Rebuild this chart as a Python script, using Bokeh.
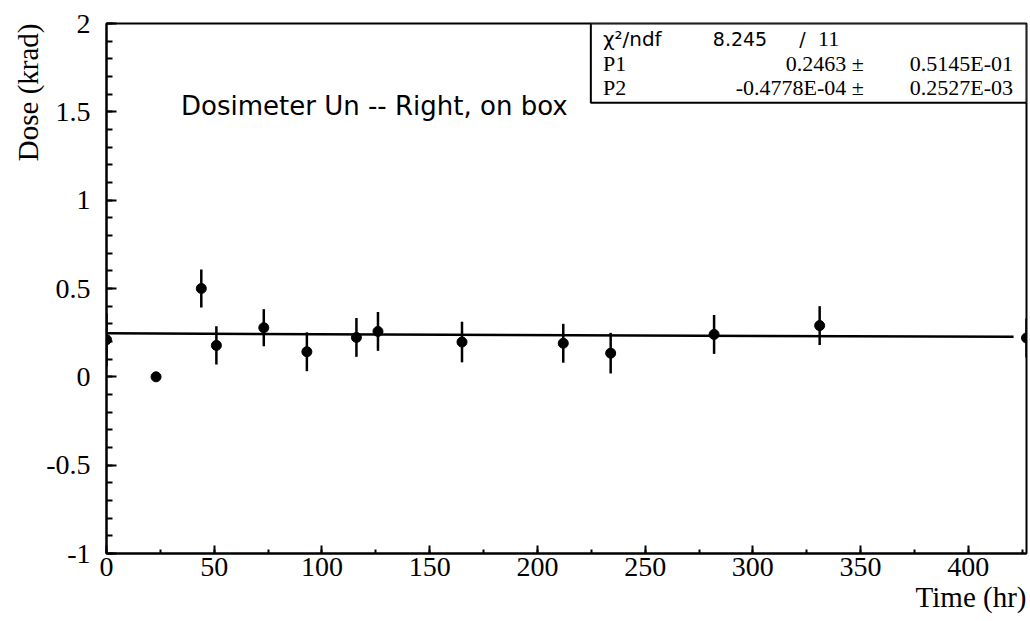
from bokeh.plotting import figure
from bokeh.models import (Range1d, SingleIntervalTicker, Label, BoxAnnotation, Title,
                          ColumnDataSource, CustomJSTickFormatter)
from bokeh.embed import file_html
from bokeh.resources import INLINE

# ---- data ----
time_hr = [0, 23, 44, 51, 73, 93, 116, 126, 165, 212, 234, 282, 331, 427]
dose_krad = [0.21, 0.0, 0.50, 0.178, 0.278, 0.142, 0.223, 0.257, 0.197, 0.19, 0.134, 0.24, 0.29, 0.22]
dose_err = [0.15, 0.0, 0.108, 0.108, 0.105, 0.11, 0.11, 0.11, 0.115, 0.11, 0.115, 0.11, 0.11, 0.11]

chi2 = "8.245"
ndf = "11"
p1_val, p1_err = "0.2463", "0.5145E-01"
p2_val, p2_err = "-0.4778E-04", "0.2527E-03"
fit_p1 = 0.2463
fit_p2 = -0.4778e-04
fit_x = [0, 421]

x_ticks_interval = 50
y_ticks_interval = 0.5

# ---- figure ----
SERIF = "Liberation Serif"
SANS = "DejaVu Sans"

p = figure(width=1028, height=621, x_range=Range1d(0, 427), y_range=Range1d(-1, 2),
           output_backend="svg", toolbar_location=None,
           min_border_left=106, min_border_right=2, min_border_top=23, min_border_bottom=68)
p.grid.visible = False
p.outline_line_color = "black"
p.outline_line_width = 2
p.background_fill_color = "white"
p.border_fill_color = "white"

p.xaxis.ticker = SingleIntervalTicker(interval=x_ticks_interval, num_minor_ticks=2)
p.yaxis.ticker = SingleIntervalTicker(interval=y_ticks_interval, num_minor_ticks=5)
p.yaxis.formatter = CustomJSTickFormatter(code="return String(Math.round(tick*10)/10);")
p.xaxis.formatter = CustomJSTickFormatter(code="return String(Math.round(tick));")

for ax in (p.xaxis[0], p.yaxis[0]):
    ax.axis_line_width = 2
    ax.axis_line_color = "black"
    ax.major_tick_out = 0
    ax.minor_tick_out = 0
    ax.major_tick_line_width = 2
    ax.minor_tick_line_width = 2
    ax.major_label_text_font = SERIF
    ax.major_label_text_font_size = "28px"
    ax.major_label_text_color = "black"

p.xaxis.major_tick_in = 8
p.xaxis.minor_tick_in = 4
p.yaxis.major_tick_in = 10
p.yaxis.minor_tick_in = 6
p.xaxis.major_label_standoff = 4
p.yaxis.major_label_standoff = 16

# ---- axis titles (as side titles, aligned to the far end) ----
p.add_layout(Title(text="Dose (krad)", align="right", text_font=SERIF,
                   text_font_size="29px", text_font_style="normal",
                   text_color="black", standoff=0, offset=0), "left")
p.add_layout(Title(text="Time (hr)", align="right", text_font=SERIF,
                   text_font_size="29px", text_font_style="normal",
                   text_color="black", standoff=0, offset=0), "below")

# ---- fit line ----
fit_y = [fit_p1 + fit_p2 * x for x in fit_x]
p.line(fit_x, fit_y, line_color="black", line_width=2.5)

# ---- data points with error bars ----
src = ColumnDataSource(dict(
    x=time_hr, y=dose_krad,
    lo=[y - e for y, e in zip(dose_krad, dose_err)],
    hi=[y + e for y, e in zip(dose_krad, dose_err)],
))
p.segment(x0="x", y0="lo", x1="x", y1="hi", source=src, line_color="black", line_width=2.5)
p.scatter(x="x", y="y", source=src, size=10, marker="circle", fill_color="black", line_color="black")

# ---- annotation ----
p.add_layout(Label(x=34.6, y=1.535, text="Dosimeter Un -- Right, on box",
                   text_font=SANS, text_font_size="26px", text_baseline="middle",
                   text_color="black"))

# ---- stats box ----
p.add_layout(BoxAnnotation(left=224.8, right=427, top=2, bottom=1.552,
                           fill_color="white", fill_alpha=1.0,
                           line_color="black", line_width=2, line_alpha=1.0))

rows_y = [1.912, 1.775, 1.637]
def lab(x, y, t, font, align="left", size="22px"):
    p.add_layout(Label(x=x, y=y, text=t, text_font=font, text_font_size=size,
                       text_align=align, text_baseline="middle", text_color="black"))

lab(230.4, rows_y[0], "\u03c7\u00b2/ndf", SANS, size="20px")
lab(281.4, rows_y[0], chi2, SANS, size="19px")
lab(323.0, rows_y[0], "/", SANS, align="center", size="19px")
lab(335.2, rows_y[0], ndf, SERIF, align="center")
lab(230.4, rows_y[1], "P1", SERIF)
lab(230.4, rows_y[2], "P2", SERIF)
lab(351.5, rows_y[1], p1_val + " \u00b1", SERIF, align="right")
lab(351.5, rows_y[2], p2_val + " \u00b1", SERIF, align="right")
lab(372.8, rows_y[1], p1_err, SERIF)
lab(372.8, rows_y[2], p2_err, SERIF)

open("out.html", "w").write(file_html(p, INLINE))
